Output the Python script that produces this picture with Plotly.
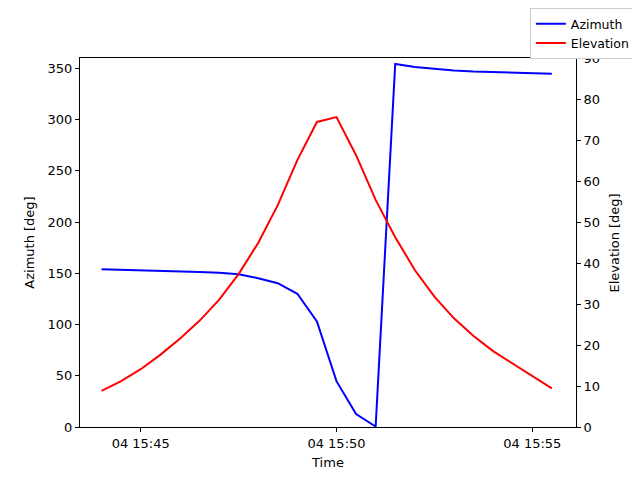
import pandas as pd
import plotly.graph_objects as go
from plotly.subplots import make_subplots

# pass samples every 30 s
times = pd.date_range('2024-01-04 15:44:00', periods=24, freq='30s')
azimuth = [154.0, 153.6, 153.2, 152.7, 152.1, 151.3, 150.4, 149.0, 145.2, 140.3,
           130.0, 103.0, 44.7, 12.6, 0.5, 354.2, 351.3, 349.3, 347.8, 346.8,
           346.1, 345.6, 345.2, 344.6]
elevation = [8.8, 11.2, 14.1, 17.6, 21.5, 25.9, 31.0, 37.3, 44.9, 54.1,
             65.1, 74.4, 75.6, 66.3, 55.4, 46.3, 38.3, 31.8, 26.5, 22.2,
             18.5, 15.4, 12.4, 9.4]

fnt = 'DejaVu Sans'

fig = make_subplots(specs=[[{'secondary_y': True}]])
fig.add_trace(go.Scatter(x=times, y=azimuth, mode='lines', name='Azimuth',
                         line=dict(color='blue', width=2)), secondary_y=False)
fig.add_trace(go.Scatter(x=times, y=elevation, mode='lines', name='Elevation',
                         line=dict(color='red', width=2)), secondary_y=True)

axis_style = dict(showline=True, linecolor='black', linewidth=1, ticks='outside',
                  ticklen=4, tickcolor='black', showgrid=False, zeroline=False,
                  automargin=False,
                  tickfont=dict(family=fnt, size=13, color='black'))

fig.update_xaxes(**axis_style, mirror=True, domain=[0, 1],
                 range=['2024-01-04 15:43:27', '2024-01-04 15:56:07'],
                 tick0='2024-01-04 15:45:00', dtick=300000, tickformat='%d %H:%M',
                 title=dict(text='Time', font=dict(family=fnt, size=13, color='black'),
                            standoff=8))
fig.update_yaxes(**axis_style, range=[0, 360], dtick=50,
                 title=dict(text='Azimuth [deg]', font=dict(family=fnt, size=13, color='black'),
                            standoff=10),
                 secondary_y=False)
fig.update_yaxes(**axis_style, range=[0, 90], dtick=10, secondary_y=True)

# right axis title as an annotation (axis title lands in the wrong place)
fig.add_annotation(text='Elevation [deg]', textangle=-90, showarrow=False,
                   xref='paper', yref='paper', x=1.0786, y=0.5,
                   xanchor='center', yanchor='middle',
                   font=dict(family=fnt, size=13, color='black'))

# page body has an 8px margin, so margins are shifted to compensate
fig.update_layout(
    width=640, height=480,
    margin=dict(l=72, r=72, t=50, b=61, autoexpand=False),
    plot_bgcolor='white', paper_bgcolor='white',
    font=dict(family=fnt, size=13, color='black'),
    legend=dict(xref='container', yref='container', x=0.981, y=1.004,
                xanchor='right', yanchor='top',
                bgcolor='white', bordercolor='#cccccc', borderwidth=1,
                font=dict(family=fnt, size=12.5), tracegroupgap=0),
    showlegend=True,
)

fig.write_html('out.html')
